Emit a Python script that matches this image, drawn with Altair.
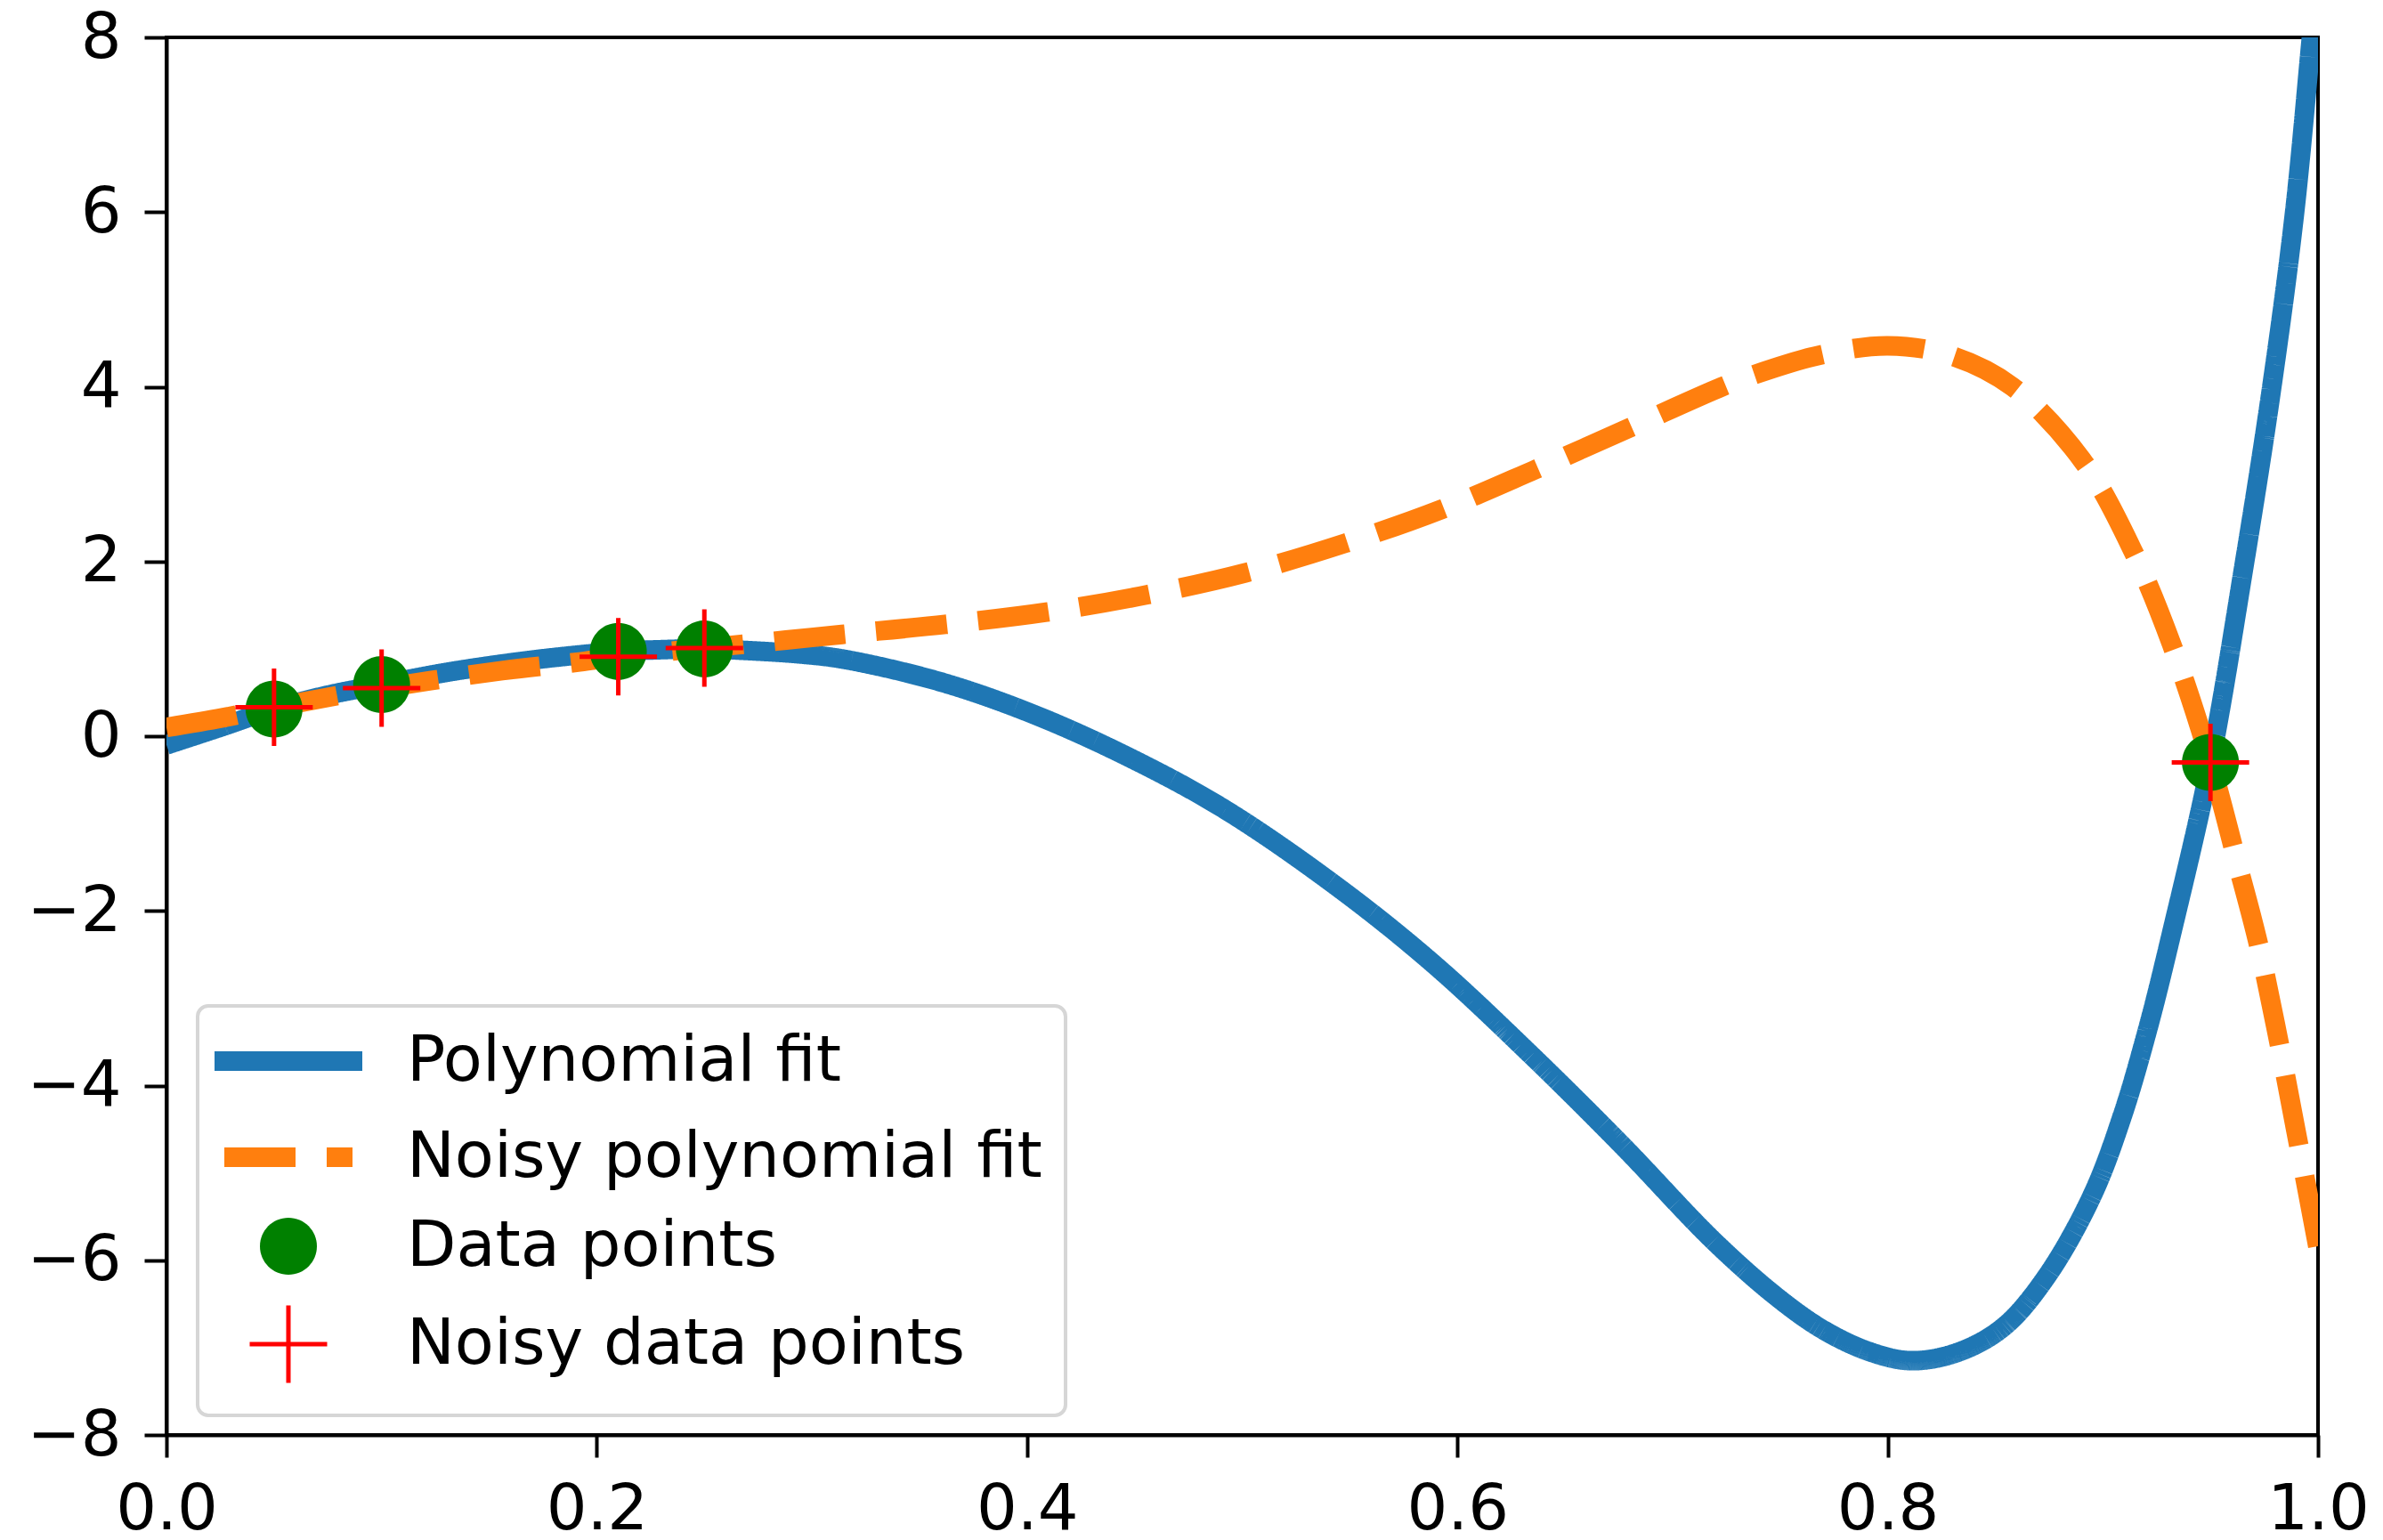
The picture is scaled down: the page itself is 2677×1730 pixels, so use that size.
import altair as alt
import pandas as pd

# ---------------- data ----------------
series_names = ["Polynomial fit", "Noisy polynomial fit", "Data points", "Noisy data points"]
series_colors = ["#1f77b4", "#ff7f0e", "#008000", "#ff0000"]
fill_colors = ["transparent", "transparent", "#008000", "transparent"]
# symbol outlines (unit paths, scaled by the size scale)
series_shapes = [
    "M-3.32,0H3.32",
    "M-2.88,0H2.88",
    "M1.28,0A1.28,1.28,0,1,1,-1.28,0A1.28,1.28,0,1,1,1.28,0Z",
    "M-1.74,0H1.74M0,-1.74V1.74",
]
symbol_sizes = [2500, 2500, 2500, 2500]
stroke_widths = [22, 22, 0, 5]
stroke_dashes = [[1, 0], [80, 35], [1, 0], [1, 0]]

fit_x = [0.0, 0.026, 0.05, 0.075, 0.1, 0.13, 0.16, 0.18, 0.21, 0.23, 0.25, 0.27,
         0.295, 0.315, 0.36, 0.403, 0.448, 0.492, 0.545, 0.589, 0.633, 0.676,
         0.72, 0.75, 0.771, 0.792, 0.811, 0.833, 0.854, 0.874, 0.895, 0.909, 0.921,
         0.932, 0.95, 0.965, 0.978, 0.989, 0.997, 1.0]
fit_y = [-0.10, 0.11, 0.31, 0.47, 0.59, 0.73, 0.84, 0.90, 0.97, 0.99, 1.00, 0.98,
         0.94, 0.88, 0.62, 0.25, -0.25, -0.84, -1.74, -2.61, -3.62, -4.67,
         -5.80, -6.45, -6.81, -7.05, -7.15, -7.05, -6.76, -6.18, -5.26, -4.35, -3.34,
         -2.25, -0.30, 1.86, 3.91, 5.97, 8.02, 8.8]

noisy_fit_x = [0.0, 0.026, 0.05, 0.1, 0.156, 0.192, 0.21, 0.25, 0.288, 0.314, 0.362,
               0.409, 0.456, 0.5015, 0.548, 0.593, 0.636, 0.68, 0.723, 0.737, 0.768,
               0.80, 0.829, 0.858, 0.891, 0.914, 0.932, 0.95, 0.963, 0.972, 0.981,
               0.990, 1.0]
noisy_fit_y = [0.10, 0.21, 0.33, 0.55, 0.75, 0.85, 0.91, 1.01, 1.10, 1.165, 1.28,
               1.42, 1.62, 1.87, 2.21, 2.60, 3.05, 3.53, 4.00, 4.13, 4.36,
               4.47, 4.36, 4.00, 3.14, 2.12, 1.05, -0.30, -1.50, -2.35, -3.40,
               -4.55, -5.85]

data_x = [0.05, 0.10, 0.21, 0.25, 0.95]
data_y = [0.31, 0.59, 0.97, 1.00, -0.30]
noisy_x = [0.05, 0.10, 0.21, 0.25, 0.95]
noisy_y = [0.33, 0.55, 0.91, 1.01, -0.30]

x_ticks = [0.0, 0.2, 0.4, 0.6, 0.8, 1.0]
y_ticks = [-8, -6, -4, -2, 0, 2, 4, 6, 8]

# ---------------- tables ----------------
fit_df = pd.DataFrame({"x": fit_x, "y": fit_y, "series": series_names[0]})
noisy_fit_df = pd.DataFrame({"x": noisy_fit_x, "y": noisy_fit_y, "series": series_names[1]})
data_df = pd.DataFrame({"x": data_x, "y": data_y, "series": series_names[2]})
noisy_df = pd.DataFrame({"x": noisy_x, "y": noisy_y, "series": series_names[3]})

FONT = "DejaVu Sans"


def nominal_scale(rng, **kw):
    return alt.Scale(domain=series_names, range=rng, **kw)


no_title = alt.Legend(title=None)

x_enc = alt.X("x:Q", scale=alt.Scale(domain=[0, 1], nice=False, zero=False),
              axis=alt.Axis(values=x_ticks, format=".1f", title=None, labelPadding=23,
                            labelFlush=False, labelOverlap=False))
y_enc = alt.Y("y:Q", scale=alt.Scale(domain=[-8, 8], nice=False, zero=False),
              axis=alt.Axis(values=y_ticks, title=None, labelPadding=26,
                            labelExpr="datum.value < 0 ? '\u2212' + format(-datum.value, 'd') : format(datum.value, 'd')",
                            labelFlush=False, labelOverlap=False))

stroke_enc = alt.Stroke("series:N", scale=nominal_scale(series_colors), legend=no_title)
dash_enc = alt.StrokeDash("series:N", scale=nominal_scale(stroke_dashes), legend=no_title)
width_enc = alt.StrokeWidth("series:N", scale=nominal_scale(stroke_widths, type="ordinal"), legend=no_title)
shape_enc = alt.Shape("series:N", scale=nominal_scale(series_shapes), legend=no_title)
size_enc = alt.Size("series:N", scale=nominal_scale(symbol_sizes, type="ordinal"), legend=no_title)
fill_enc = alt.Fill("series:N", scale=nominal_scale(fill_colors), legend=no_title)

fit_line = alt.Chart(fit_df).mark_line(clip=True, strokeCap="butt", opacity=1,
                                       interpolate="catmull-rom").encode(
    x=x_enc, y=y_enc, stroke=stroke_enc, strokeDash=dash_enc, strokeWidth=width_enc,
    order=alt.Order("x:Q"))
noisy_line = alt.Chart(noisy_fit_df).mark_line(clip=True, strokeCap="butt", opacity=1,
                                               interpolate="catmull-rom").encode(
    x=x_enc, y=y_enc, stroke=stroke_enc, strokeDash=dash_enc, strokeWidth=width_enc,
    order=alt.Order("x:Q"))
dots = alt.Chart(data_df).mark_point(filled=True, opacity=1).encode(
    x=x_enc, y=y_enc, shape=shape_enc, size=size_enc, fill=fill_enc, stroke=stroke_enc,
    strokeWidth=width_enc)
crosses = alt.Chart(noisy_df).mark_point(filled=False, opacity=1).encode(
    x=x_enc, y=y_enc, shape=shape_enc, size=size_enc, stroke=stroke_enc,
    strokeWidth=width_enc)

chart = alt.layer(fit_line, noisy_line, dots, crosses).properties(
    width=2417, height=1570,
    padding={"left": 179, "top": 34, "right": 65, "bottom": 110},
    autosize=alt.AutoSizeParams(type="none"),
    background="white",
).configure_view(
    stroke="black", strokeWidth=4
).configure_axis(
    domainColor="black", domainWidth=4, tickColor="black", tickWidth=4, tickSize=25,
    labelFont=FONT, labelFontSize=72, labelColor="black", grid=False,
).configure_legend(
    orient="none", legendX=35, legendY=1088,
    padding=26, fillColor="white", strokeColor="#d6d6d6", strokeWidth=4, cornerRadius=12,
    labelFont=FONT, labelFontSize=72, labelColor="black", labelLimit=3000,
    labelOffset=97, rowPadding=20, symbolOffset=40,
    symbolFillColor="transparent", symbolStrokeColor="transparent",
)

chart.save("out.html", embed_options={"renderer": "svg", "actions": False})
